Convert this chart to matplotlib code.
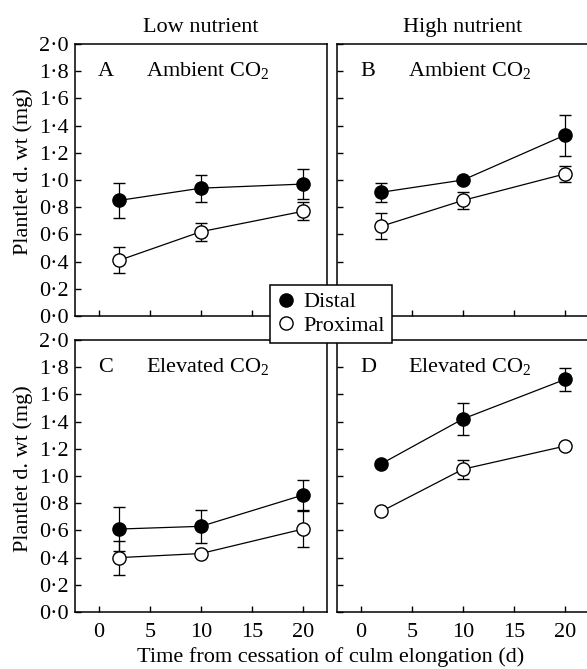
import matplotlib
matplotlib.use("Agg")
import matplotlib.pyplot as plt
from matplotlib.lines import Line2D

plt.rcParams['font.family'] = ['Liberation Serif', 'DejaVu Serif']
plt.rcParams['mathtext.default'] = 'regular'

days = [2, 10, 20]

A_distal = [0.85, 0.94, 0.97]
A_distal_err = [0.13, 0.10, 0.11]
A_prox = [0.41, 0.62, 0.77]
A_prox_err = [0.095, 0.065, 0.065]

B_distal = [0.91, 1.00, 1.33]
B_distal_err = [0.07, 0.02, 0.15]
B_prox = [0.66, 0.85, 1.045]
B_prox_err = [0.095, 0.065, 0.06]

C_distal = [0.61, 0.63, 0.86]
C_distal_err = [0.16, 0.12, 0.11]
C_prox = [0.40, 0.43, 0.61]
C_prox_err = [0.125, 0.02, 0.13]

D_distal = [1.09, 1.42, 1.71]
D_distal_err = [0.02, 0.115, 0.085]
D_prox = [0.74, 1.05, 1.22]
D_prox_err = [0.02, 0.07, 0.02]

panel_letters = ['A', 'B', 'C', 'D']
panel_titles = ['Ambient CO$_2$', 'Ambient CO$_2$', 'Elevated CO$_2$', 'Elevated CO$_2$']
col_titles = ['Low nutrient', 'High nutrient']
x_ticks = [0, 5, 10, 15, 20]
y_ticks = [0.0, 0.2, 0.4, 0.6, 0.8, 1.0, 1.2, 1.4, 1.6, 1.8, 2.0]
legend_labels = ['Distal', 'Proximal']

W, H = 587, 669
fig = plt.figure(figsize=(W / 100, H / 100), dpi=100)

def ax_at(l, t, r, b):
    return fig.add_axes([l / W, 1 - b / H, (r - l) / W, (b - t) / H])

boxes = [(75, 44, 327, 316), (337, 44, 589, 316),
         (75, 340, 327, 612), (337, 340, 589, 612)]
data = [(A_distal, A_distal_err, A_prox, A_prox_err),
        (B_distal, B_distal_err, B_prox, B_prox_err),
        (C_distal, C_distal_err, C_prox, C_prox_err),
        (D_distal, D_distal_err, D_prox, D_prox_err)]

FS = 16
for i, (box, (dv, de, pv, pe)) in enumerate(zip(boxes, data)):
    ax = ax_at(*box)
    for vals, errs, fc in ((dv, de, 'black'), (pv, pe, 'white')):
        ax.errorbar(days, vals, yerr=errs, color='black', lw=0.9,
                    elinewidth=0.9, capsize=4, capthick=0.9,
                    marker='o', ms=9.5, mfc=fc, mec='black', mew=1.0,
                    zorder=3)
    ax.set_xlim(-2.35, 22.35)
    ax.set_ylim(0, 2.0)
    ax.set_xticks(x_ticks)
    ax.set_yticks(y_ticks)
    ax.tick_params(direction='in', length=4, width=1.0, labelsize=FS)
    ax.tick_params(axis='y', pad=4.5)
    ax.tick_params(axis='x', pad=8)
    for s in ax.spines.values():
        s.set_linewidth(1.1)
    if i % 2 == 0:
        ax.set_yticklabels([f"{v:.1f}".replace('.', '\u00b7') for v in y_ticks])
    else:
        ax.set_yticklabels([])
    if i >= 2:
        ax.set_xticklabels([str(v) for v in x_ticks])
    else:
        ax.set_xticklabels([])
        ax.set_title(col_titles[i], fontsize=FS, pad=8.6)
    ax.text(0.091, 0.882, panel_letters[i], transform=ax.transAxes,
            fontsize=FS, ha='left', va='baseline')
    ax.text(0.282, 0.882, panel_titles[i], transform=ax.transAxes,
            fontsize=FS, ha='left', va='baseline')

fig.text(23 / W, 1 - 172 / H, 'Plantlet d. wt (mg)', rotation=90,
         ha='center', va='center', fontsize=FS)
fig.text(23 / W, 1 - 469 / H, 'Plantlet d. wt (mg)', rotation=90,
         ha='center', va='center', fontsize=FS)
fig.text(331 / W, 1 - 662 / H, 'Time from cessation of culm elongation (d)',
         ha='center', va='baseline', fontsize=FS)

handles = [Line2D([], [], ls='none', marker='o', ms=9.5, mfc='black', mec='black'),
           Line2D([], [], ls='none', marker='o', ms=9.5, mfc='white', mec='black')]
leg = fig.legend(handles, legend_labels, loc='center',
                 bbox_to_anchor=(331 / W, 1 - 314 / H), fontsize=FS,
                 frameon=True, fancybox=False, edgecolor='black',
                 framealpha=1, handlelength=0.8, handletextpad=0.4,
                 labelspacing=0.15, borderpad=0.3, borderaxespad=0)
leg.get_frame().set_linewidth(1.1)
leg.set_zorder(10)

fig.savefig('out.png', dpi=100)
